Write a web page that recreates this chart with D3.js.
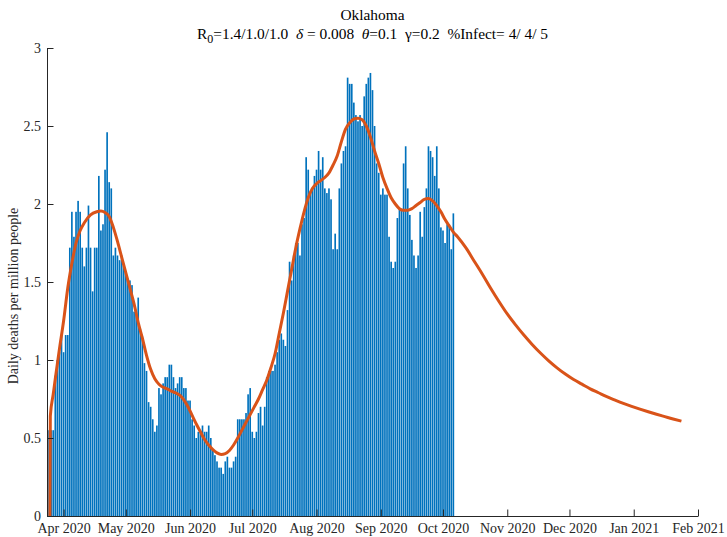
<!DOCTYPE html>
<html>
<head>
<meta charset="utf-8">
<script src="https://cdn.jsdelivr.net/npm/d3@7"></script>
<style>
  html, body { margin: 0; padding: 0; background: #fff; }
  svg { display: block; font-family: "Liberation Serif", "Times New Roman", serif; }
</style>
</head>
<body>
<svg id="chart" width="727" height="537"></svg>
<script>
// Daily reported deaths per million people, one bar per day from 25 Mar 2020
const barStart = "2020-03-25";
const dailyDeaths = [
  0.55, 0.55, 0.55, 0.90, 1.00, 1.05, 1.16, 1.05, 1.16, 1.16,
  1.72, 1.95, 1.79, 1.95, 2.02, 1.95, 1.72, 1.60, 1.72, 1.99,
  1.72, 1.44, 1.72, 1.72, 2.18, 1.83, 1.87, 2.22, 2.46, 2.14,
  2.10, 1.67, 1.72, 1.67, 1.64, 1.67, 1.60, 1.55, 1.52,
  1.51, 1.48, 1.31, 1.32, 1.40, 1.20, 1.15, 0.98, 0.93, 0.73,
  0.70, 0.62, 0.54, 0.58, 0.82, 0.78, 0.85, 0.89, 0.89, 0.97,
  0.97, 0.89, 0.82, 0.85, 0.89, 0.89, 0.82, 0.82, 0.74, 0.74,
  0.62, 0.58, 0.50, 0.54, 0.54, 0.58, 0.54, 0.54, 0.58, 0.50,
  0.42, 0.39, 0.35, 0.31, 0.31, 0.27, 0.35, 0.38, 0.31, 0.31,
  0.35, 0.38, 0.62,
  0.62, 0.62, 0.62, 0.66, 0.78, 0.82, 0.54, 0.50, 0.54, 0.66,
  0.70, 0.58, 0.70, 0.89, 0.93, 0.93, 0.93, 0.97,
  1.05, 1.13, 1.17, 1.13, 1.09, 1.32, 1.63, 1.51, 1.67, 1.75,
  1.75, 1.67, 1.87, 1.91, 2.30, 2.22, 2.07, 2.10, 2.18, 2.22,
  2.34, 2.22, 2.30, 2.10, 2.07, 2.10, 2.03, 1.71,
  1.81, 1.71, 2.10, 2.26, 2.34, 2.37, 2.81, 2.77, 2.77, 2.65,
  2.57, 2.53, 2.57, 2.50, 2.69, 2.77, 2.81, 2.84, 2.73, 2.50,
  2.26, 2.20, 2.06, 2.10, 2.06, 2.06, 1.79, 1.63, 1.59, 1.63,
  1.91, 1.97, 1.97, 2.26, 2.37, 2.10, 1.93, 1.77, 1.67, 1.59,
  1.67, 1.95, 1.79, 1.98, 2.10, 2.37, 2.34, 2.30, 2.18, 2.37,
  2.10, 1.85, 1.83, 1.75, 1.87, 1.87, 1.71, 1.94
];

// Model curve: days after 1 Apr 2020 and modelled deaths per million
const modelDay = [
  -6.6, -6.4, -5, -4, -2, 0, 2, 4, 6, 8, 10, 13, 16, 18, 20, 22, 24, 26, 28, 30,
  32, 34, 36, 38, 40, 42, 44, 46, 48, 50, 52, 54, 56, 58, 60, 62, 64, 66, 68, 70,
  72, 74, 76, 78, 80, 82, 84, 86, 88, 90, 92, 94, 96, 98, 100, 102, 104, 106, 108, 110,
  112, 114, 116, 118, 120, 122, 124, 126, 128, 130, 132, 134, 136, 138, 140, 142, 144, 146, 148, 150,
  152, 154, 156, 158, 160, 162, 164, 166, 168, 170, 172, 174, 176, 178, 180, 182, 184, 186, 188, 190,
  194, 198, 202, 206, 210, 214, 218, 222, 226, 230, 234, 238, 242, 246, 250, 254, 258, 262, 266, 270,
  274, 278, 282, 286, 290, 294, 298
];
const modelDeaths = [
  0, 0.64, 0.78, 0.88, 1.07, 1.25, 1.46, 1.62, 1.75, 1.83, 1.88, 1.93, 1.95, 1.955, 1.945, 1.92, 1.85, 1.76, 1.66, 1.56,
  1.46, 1.36, 1.24, 1.14, 1.03, 0.94, 0.88, 0.845, 0.825, 0.815, 0.80, 0.79, 0.775, 0.745, 0.70, 0.645, 0.59, 0.54, 0.49, 0.455,
  0.425, 0.405, 0.395, 0.40, 0.42, 0.455, 0.50, 0.55, 0.60, 0.65, 0.70, 0.75, 0.81, 0.87, 0.95, 1.04, 1.17, 1.30, 1.44, 1.58,
  1.72, 1.84, 1.95, 2.04, 2.10, 2.13, 2.15, 2.17, 2.20, 2.25, 2.31, 2.40, 2.48, 2.52, 2.545, 2.55, 2.54, 2.50, 2.43, 2.34,
  2.26, 2.17, 2.10, 2.04, 2.00, 1.97, 1.96, 1.96, 1.97, 1.99, 2.01, 2.03, 2.035, 2.02, 1.99, 1.95, 1.90, 1.86, 1.82, 1.79,
  1.72, 1.635, 1.55, 1.46, 1.375, 1.295, 1.225, 1.16, 1.10, 1.045, 0.995, 0.95, 0.91, 0.875, 0.845, 0.815, 0.79, 0.765, 0.743, 0.722,
  0.703, 0.685, 0.668, 0.652, 0.637, 0.622, 0.608
];

const yTicks = [0, 0.5, 1, 1.5, 2, 2.5, 3];
const monthTicks = ["2020-04-01", "2020-05-01", "2020-06-01", "2020-07-01", "2020-08-01",
  "2020-09-01", "2020-10-01", "2020-11-01", "2020-12-01", "2021-01-01", "2021-02-01"];

const DAY = 864e5;
const parse = d3.utcParse("%Y-%m-%d");
const t0 = parse(barStart);
const apr1 = parse("2020-04-01");

const bars = dailyDeaths.map((v, i) => ({ date: new Date(+t0 + i * DAY), value: v }));
const model = modelDay.map((d, i) => ({ date: new Date(+apr1 + d * DAY), value: modelDeaths[i] }));

const plotLeft = 47, plotRight = 698, plotTop = 48, plotBottom = 516;
const axisColor = "#262626";

const x = d3.scaleUtc()
  .domain([parse("2020-03-24"), parse("2021-02-01")])
  .range([plotLeft, plotRight]);
const y = d3.scaleLinear().domain([0, 3]).range([plotBottom, plotTop]);

const svg = d3.select("#chart");
const dayWidth = x(new Date(+t0 + DAY)) - x(t0);
const barW = dayWidth * 0.8;

// bars
svg.append("g")
  .selectAll("rect")
  .data(bars)
  .join("rect")
  .attr("x", d => x(d.date) - barW / 2)
  .attr("width", barW)
  .attr("y", d => y(d.value))
  .attr("height", d => y(0) - y(d.value))
  .attr("fill", "#0072BD");

// model curve
svg.append("path")
  .datum(model)
  .attr("fill", "none")
  .attr("stroke", "#D95319")
  .attr("stroke-width", 3)
  .attr("stroke-linejoin", "round")
  .attr("d", d3.line().x(d => x(d.date)).y(d => y(d.value)).curve(d3.curveMonotoneX));

// axes
const xAxis = d3.axisBottom(x)
  .tickValues(monthTicks.map(parse))
  .tickFormat(d3.utcFormat("%b %Y"))
  .tickSizeInner(-6.5)
  .tickSizeOuter(0)
  .tickPadding(7);
const gx = svg.append("g").attr("transform", `translate(0,${plotBottom})`).call(xAxis);

const yAxis = d3.axisLeft(y)
  .tickValues(yTicks)
  .tickFormat(d3.format("~g"))
  .tickSizeInner(-6.5)
  .tickSizeOuter(0)
  .tickPadding(6);
const gy = svg.append("g").attr("transform", `translate(${plotLeft},0)`).call(yAxis);

[gx, gy].forEach(g => {
  g.select(".domain").attr("stroke", axisColor).attr("stroke-width", 1);
  g.selectAll(".tick line").attr("stroke", axisColor).attr("stroke-width", 1);
  g.selectAll(".tick text")
    .attr("fill", axisColor)
    .style("font-family", '"Liberation Serif", "Times New Roman", serif')
    .style("font-size", "14px");
});

// y label
svg.append("text")
  .attr("transform", `translate(18,${(plotTop + plotBottom) / 2 + 14}) rotate(-90)`)
  .attr("text-anchor", "middle")
  .attr("fill", axisColor)
  .style("font-size", "14px")
  .text("Daily deaths per million people");

// titles
const cx = (plotLeft + plotRight) / 2;
svg.append("text")
  .attr("x", cx).attr("y", 19.5)
  .attr("text-anchor", "middle")
  .attr("fill", "#000")
  .style("font-size", "15.4px")
  .text("Oklahoma");

const sub = svg.append("text")
  .attr("x", cx).attr("y", 38.5)
  .attr("text-anchor", "middle")
  .attr("fill", "#000")
  .style("font-size", "15.4px")
  .style("white-space", "pre");
sub.append("tspan").text("R");
sub.append("tspan").attr("dy", 4.5).style("font-size", "12px").text("0");
sub.append("tspan").attr("dy", -4.5).text("=1.4/1.0/1.0  ");
sub.append("tspan").style("font-style", "italic").text("δ");
sub.append("tspan").text(" = 0.008  ");
sub.append("tspan").style("font-style", "italic").text("θ");
sub.append("tspan").text("=0.1  ");
sub.append("tspan").text("γ");
sub.append("tspan").text("=0.2  %Infect= 4/ 4/ 5");
</script>
</body>
</html>
